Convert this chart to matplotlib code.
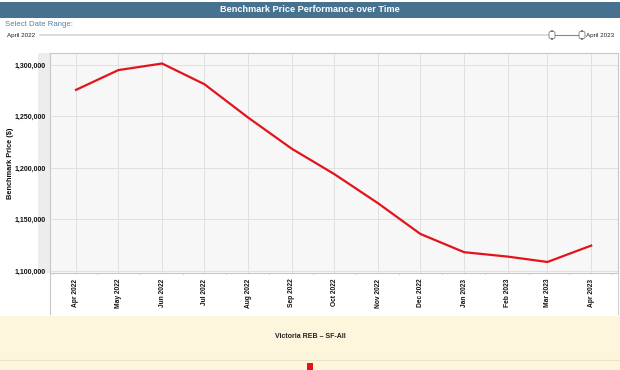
import datetime as dt
import matplotlib
matplotlib.use('agg')
import matplotlib.pyplot as plt
import matplotlib.dates as mdates
from matplotlib.patches import Rectangle, FancyBboxPatch
from matplotlib.lines import Line2D
from matplotlib.ticker import FuncFormatter

plt.rcParams['font.family'] = ['Liberation Sans', 'DejaVu Sans']

# benchmark price by month
months = ['2022-04', '2022-05', '2022-06', '2022-07', '2022-08', '2022-09', '2022-10',
          '2022-11', '2022-12', '2023-01', '2023-02', '2023-03', '2023-04']
prices = [1275700, 1294900, 1301300, 1281200, 1248800, 1218500, 1194000,
          1165700, 1135900, 1118200, 1113900, 1108700, 1124600]
series_name = 'Victoria REB \u2013 SF-All'
chart_title = 'Benchmark Price Performance over Time'
range_start = 'April 2022'
range_end = 'April 2023'

dates = [dt.datetime.strptime(m, '%Y-%m') for m in months]

W, H = 620, 370
fig = plt.figure(figsize=(W / 100, H / 100), dpi=100)
fig.patch.set_facecolor('white')


def fx(px):
    return px / W


def fy(py):
    return 1 - py / H


# title bar
fig.patches.append(Rectangle((0, fy(18)), 1, fy(2) - fy(18), transform=fig.transFigure,
                             facecolor='#46728f', edgecolor='none', zorder=-1))
fig.text(0.5, fy(10), chart_title, color='white', fontsize=6.6, fontweight='bold',
         ha='center', va='center')

# date range slider
fig.text(fx(5), fy(24), 'Select Date Range:', color='#4f86a6', fontsize=5.6, va='center')
fig.text(fx(7), fy(35), range_start, color='#222222', fontsize=4.5, va='center')
fig.text(fx(586), fy(35), range_end, color='#222222', fontsize=4.5, va='center')
fig.add_artist(Line2D([fx(40), fx(552)], [fy(35), fy(35)], color='#d6d6d6', lw=1.2,
                      transform=fig.transFigure))
fig.add_artist(Line2D([fx(552), fx(582)], [fy(35), fy(35)], color='#888888', lw=0.8,
                      transform=fig.transFigure))
for hx in [552, 582]:
    fig.patches.append(FancyBboxPatch((fx(hx - 3), fy(39)), fx(6), fy(31) - fy(39),
                                      boxstyle='round,pad=0,rounding_size=0.006',
                                      transform=fig.transFigure, facecolor='white',
                                      edgecolor='#777777', lw=0.6, zorder=3))

# grey band behind y tick labels
fig.patches.append(Rectangle((fx(38), fy(273)), fx(12), fy(53) - fy(273), transform=fig.transFigure,
                             facecolor='#ededed', edgecolor='none', zorder=-1))
fig.add_artist(Line2D([fx(50), fx(50)], [fy(273), fy(314)], color='#c8c8c8', lw=0.8,
                      transform=fig.transFigure))
fig.add_artist(Line2D([fx(618), fx(618)], [fy(273), fy(314)], color='#d0d0d0', lw=0.8,
                      transform=fig.transFigure))

# legend band
fig.patches.append(Rectangle((0, 0), 1, fy(316), transform=fig.transFigure,
                             facecolor='#fdf5dc', edgecolor='none', zorder=-1))
fig.add_artist(Line2D([0, 1], [fy(360), fy(360)], color='#ece3c6', lw=0.8,
                      transform=fig.transFigure))
fig.text(0.5, fy(337), series_name, color='#222222', fontsize=5, fontweight='bold',
         ha='center', va='center')
fig.patches.append(Rectangle((fx(306.5), fy(370)), fx(7), fy(363) - fy(370), transform=fig.transFigure,
                             facecolor='#e3131b', edgecolor='none', zorder=3))

# main chart
ax = fig.add_axes([fx(50), fy(273), fx(618) - fx(50), fy(53) - fy(273)])
ax.set_facecolor('#f7f7f7')
ax.plot(dates, prices, color='#e3131b', lw=1.6, solid_joinstyle='miter', zorder=3)

ax.set_xlim(dates[0] - dt.timedelta(days=18.4), dates[-1] + dt.timedelta(days=19))
ax.set_ylim(1098000, 1311500)
ax.set_yticks([1100000, 1150000, 1200000, 1250000, 1300000])
ax.yaxis.set_major_formatter(FuncFormatter(lambda v, p: '{:,.0f}'.format(v)))
ax.xaxis.set_major_locator(mdates.MonthLocator())
ax.xaxis.set_minor_locator(mdates.MonthLocator(bymonthday=16))
ax.xaxis.set_major_formatter(mdates.DateFormatter('%b %Y'))

ax.grid(True, which='major', color='#e0e0e0', lw=0.7)
ax.tick_params(axis='x', which='major', labelsize=4.8, rotation=90, length=0, pad=4, labelcolor='#111111')
ax.tick_params(axis='x', which='minor', length=1.2, color='#dddddd')
ax.tick_params(axis='y', labelsize=5, length=0, pad=3, labelcolor='#111111')
for lab in ax.get_xticklabels() + ax.get_yticklabels():
    lab.set_fontweight('bold')
for s in ax.spines.values():
    s.set_color('#c8c8c8')
    s.set_linewidth(0.8)

ax.set_ylabel('Benchmark Price ($)', fontsize=5.3, fontweight='bold', color='#111111')
ax.yaxis.set_label_coords(-36 / 568, 0.5)

plt.savefig('out.png', dpi=100)
